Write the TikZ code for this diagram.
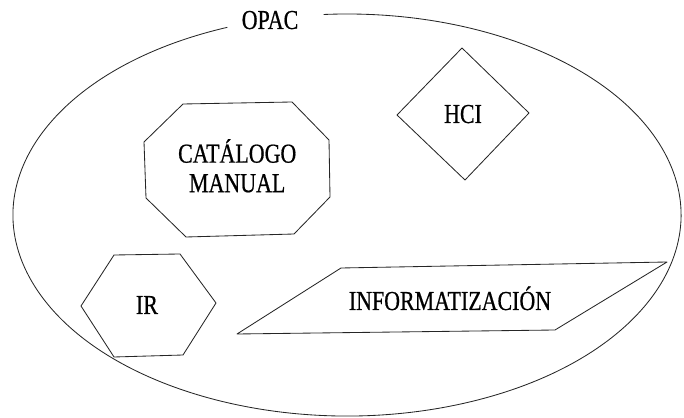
\documentclass[tikz,border=0pt]{standalone}
\usepackage{fontspec}
\newfontfamily\lblfont{Liberation Serif}[FakeStretch=0.8, FakeBold=0.6]
\usepackage{tikz}
\usetikzlibrary{positioning}

\begin{document}
\begin{tikzpicture}[
    figline/.style={draw=black!85, line width=0.6pt, line join=round},
    lbl/.style={font=\lblfont\fontsize{19.5}{21}\selectfont, inner sep=0pt, align=center},
  ]
    \useasboundingbox (0,0) rectangle (17.1,10.425);

    % outer ellipse, open at the top for its label
    \coordinate (mid) at (8.675,5.05);
    \node[lbl, anchor=base] (opac) at (6.75,9.7) {OPAC};
    \draw[figline] ([shift={(111:8.35 and 5.025)}]mid)
      arc[start angle=111, end angle=454, x radius=8.35, y radius=5.025];

    % inner shapes
    \node[lbl] (catalogo) at (5.93,6.28) {CAT\'ALOGO\\MANUAL};
    \draw[figline] (4.575,7.825) -- (7.3,7.875) -- (8.225,6.925) -- (8.25,5.5)
      -- (7.35,4.575) -- (4.65,4.5) -- (3.65,5.475) -- (3.6,6.875) -- cycle;

    \node[lbl, anchor=base] (hci) at (11.575,7.35) {HCI};
    \draw[figline] (11.55,9.225) -- (13.225,7.6) -- (11.625,5.925)
      -- (9.925,7.55) -- cycle;

    \node[lbl, anchor=base] (ir) at (3.675,2.575) {IR};
    \draw[figline] (2.85,4.05) -- (4.5,4.075) -- (5.4,2.85) -- (4.575,1.55)
      -- (2.85,1.5) -- (2.025,2.775) -- cycle;

    \node[lbl, anchor=base] (informatizacion) at (11.25,2.675) {INFORMATIZACI\'ON};
    \draw[figline] (8.525,3.725) -- (16.675,3.875) -- (13.875,2.175)
      -- (5.925,2.075) -- cycle;
  \end{tikzpicture}
\end{document}
